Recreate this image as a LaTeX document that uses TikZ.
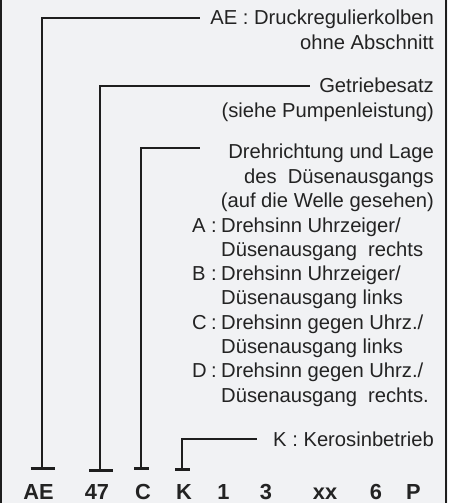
\documentclass[tikz,border=0pt]{standalone}
\usepackage{fontspec}
\setmainfont{Liberation Sans}
\usetikzlibrary{calc}
\definecolor{bgc}{RGB}{241,242,244}
\definecolor{ink}{RGB}{30,30,30}
\definecolor{txt}{RGB}{35,35,35}
\tikzset{
  lead/.style={draw=ink, line width=2pt},
  tbar/.style={draw=ink, line width=3pt},
  frame/.style={draw=ink, line width=2.5pt},
  rtxt/.style={inner sep=0pt, anchor=base east, text=txt, font=\fontsize{20.2}{24}\selectfont},
  ltxt/.style={inner sep=0pt, anchor=base west, text=txt, font=\fontsize{20.2}{24}\selectfont},
  code/.style={inner sep=0pt, anchor=base, text=txt, font=\fontsize{21.8}{26}\selectfont\bfseries},
}
\begin{document}
\begin{tikzpicture}[x=1pt,y=-1pt]
\fill[bgc] (0,0) rectangle (448,503);
\useasboundingbox (0,0) rectangle (448,503);
\draw[frame] (1.2,0) -- (1.2,503);
\draw[frame] (445.8,0) -- (445.8,503);

% texts
\node[rtxt] (t1) at (434,24.5) {AE : Druckregulierkolben};
\node[rtxt] (t2) at (434,49) {ohne Abschnitt};
\node[rtxt] (t3) at (434,92.5) {Getriebesatz};
\node[rtxt] (t4) at (434,117) {(siehe Pumpenleistung)};
\node[rtxt] (t5) at (434,158) {Drehrichtung und Lage};
\node[rtxt] (t6) at (434,183) {des\hspace{0.55em}Düsenausgangs};
\node[rtxt] (t7) at (434,207) {(auf die Welle gesehen)};
\node[ltxt] (la) at (192,232) {A};
\node[ltxt] (ca) at (211,232) {:};
\node[ltxt] (a1) at (221,232) {Drehsinn Uhrzeiger/};
\node[ltxt] (a2) at (221,256) {Düsenausgang\hspace{0.55em}rechts};
\node[ltxt] (lb) at (192,280) {B};
\node[ltxt] (cb) at (211,280) {:};
\node[ltxt] (b1) at (221,280) {Drehsinn Uhrzeiger/};
\node[ltxt] (b2) at (221,304) {Düsenausgang links};
\node[ltxt] (lc) at (192,329) {C};
\node[ltxt] (cc) at (211,329) {:};
\node[ltxt] (c1) at (221,329) {Drehsinn gegen Uhrz./};
\node[ltxt] (c2) at (221,353) {Düsenausgang links};
\node[ltxt] (ld) at (192,377) {D};
\node[ltxt] (cd) at (211,377) {:};
\node[ltxt] (d1) at (221,377) {Drehsinn gegen Uhrz./};
\node[ltxt] (d2) at (221,402) {Düsenausgang\hspace{0.55em}rechts.};
\node[rtxt] (tk) at (434,446.5) {K : Kerosinbetrieb};

% code letters
\node[code] (cAE) at (38.5,499.5) {AE};
\node[code] (c47) at (97,499.5) {47};
\node[code] (cC) at (143,499.5) {C};
\node[code] (cK) at (184,499.5) {K};
\node[code] (cone) at (223.5,499.5) {1};
\node[code] (cthree) at (266,499.5) {3};
\node[code] (cxx) at (325,499.5) {xx};
\node[code] (csix) at (376,499.5) {6};
\node[code] (cP) at (413.5,499.5) {P};

% connector coordinates
\coordinate (ae0) at (42,468);
\coordinate (ae1) at (200,18);
\coordinate (g0) at (100,470);
\coordinate (g1) at (310,86);
\coordinate (d0) at (141,468);
\coordinate (d1) at (200,148);
\coordinate (k0) at (182,469);
\coordinate (k1) at (257,439);

\draw[lead] (ae0) |- (ae1);
\draw[lead] (g0) |- (g1);
\draw[lead] (d0) |- (d1);
\draw[lead] (k0) |- (k1);

\draw[tbar] ($(ae0)+(-11.5,0)$) -- ($(ae0)+(12.5,0)$);
\draw[tbar] ($(g0)+(-11,0)$) -- ($(g0)+(13,0)$);
\draw[tbar] ($(d0)+(-7,0)$) -- ($(d0)+(8,0)$);
\draw[tbar] ($(k0)+(-7,0)$) -- ($(k0)+(8,0)$);
\end{tikzpicture}
\end{document}
